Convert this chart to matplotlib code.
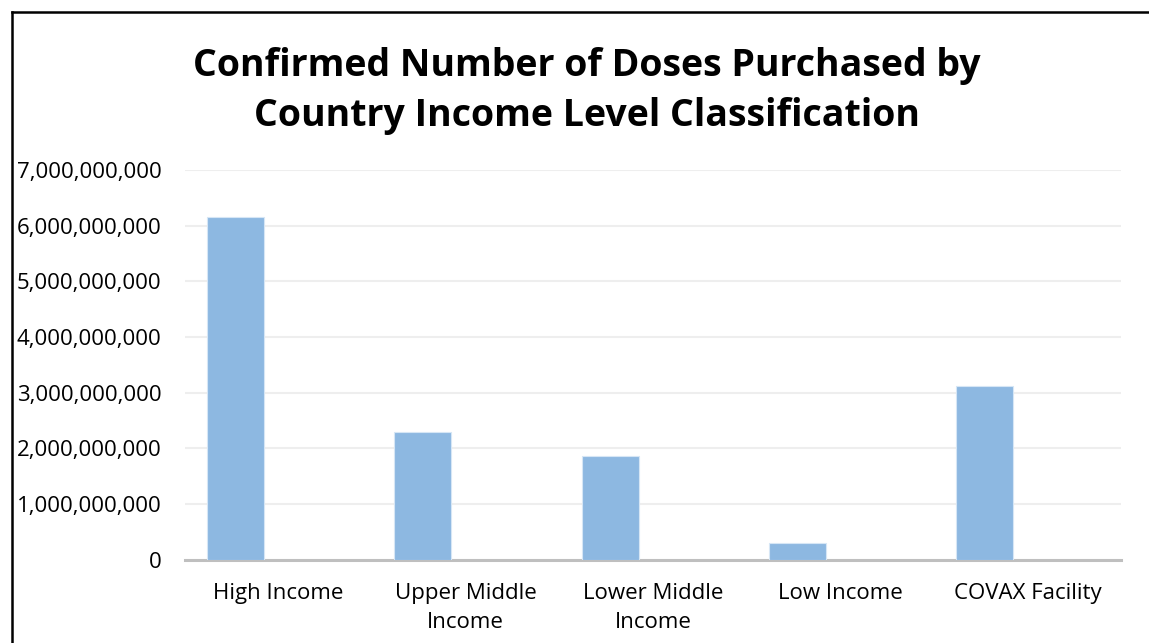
import matplotlib
matplotlib.use('Agg')
import matplotlib.pyplot as plt
from matplotlib.lines import Line2D
from matplotlib.ticker import FuncFormatter

# Data ########################################################################

categories = ['High Income', 'Upper Middle\nIncome', 'Lower Middle\nIncome',
              'Low Income', 'COVAX Facility']
doses = [6156000000, 2294000000, 1863000000, 300000000, 3120000000]
yticks = [0, 1e9, 2e9, 3e9, 4e9, 5e9, 6e9, 7e9]

# Plot ########################################################################

plt.rcParams['font.family'] = ['Open Sans', 'DejaVu Sans']

fig = plt.figure(figsize=(11.49, 6.43), dpi=100)
ax = fig.add_axes([0.161, 0.1295, 0.8146, 0.6061])

x = range(len(categories))
# bars sit left of the category centre (empty second series in the original)
ax.bar([i - 0.229 for i in x], doses, width=0.304, color='#8DB8E1',
       edgecolor='#D6E6F5', linewidth=0.8, zorder=3)

ax.set_xlim(-0.5, len(categories) - 0.5)
ax.set_ylim(0, 7e9)
ax.set_yticks(yticks)
ax.yaxis.set_major_formatter(FuncFormatter(lambda v, p: f'{int(v):,}'))
ax.set_xticks(list(x))
ax.set_xticklabels(categories, linespacing=1.5)

ax.grid(axis='y', color='#EEEEEE', linewidth=1.5, zorder=0)
ax.tick_params(axis='y', length=0, pad=17, labelsize=16, colors='#000000')
ax.tick_params(axis='x', length=0, pad=17, labelsize=16, colors='#000000')
for side in ['left', 'right', 'top']:
    ax.spines[side].set_visible(False)
ax.spines['bottom'].set_color('#BFBFBF')
ax.spines['bottom'].set_linewidth(2.2)

fig.text(0.511, 0.859, 'Confirmed Number of Doses Purchased by\nCountry Income Level Classification',
         ha='center', va='center', fontsize=27, fontweight='bold',
         linespacing=1.42)

# frame lines (left and top only visible)
fig.lines.append(Line2D([0.0105, 0.0105], [0, 0.981], transform=fig.transFigure,
                        color='black', linewidth=1.8))
fig.lines.append(Line2D([0.0105, 1], [0.981, 0.981], transform=fig.transFigure,
                        color='black', linewidth=1.8))

fig.savefig('out.png', dpi=100)
